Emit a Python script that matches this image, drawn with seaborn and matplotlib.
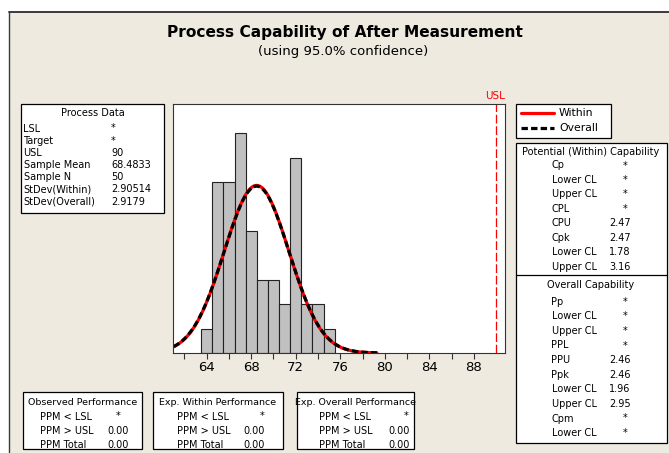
# Process capability chart of After Measurement (Minitab style)

import numpy as np
import pandas as pd
import matplotlib.pyplot as plt
import seaborn as sns
from matplotlib.patches import Rectangle
from matplotlib.lines import Line2D

# Histogram of the measurements (bin width 1)
bin_mids = [64, 65, 66, 67, 68, 69, 70, 71, 72, 73, 74, 75]
counts = [1, 7, 7, 9, 5, 3, 3, 2, 8, 2, 2, 1]

# Process data
usl = 90
sample_mean = 68.4833
sample_n = 50
sd_within = 2.90514
sd_overall = 2.9179

process_labels = ["LSL", "Target", "USL", "Sample Mean", "Sample N", "StDev(Within)", "StDev(Overall)"]
process_values = ["*", "*", "90", "68.4833", "50", "2.90514", "2.9179"]

within_labels = ["Cp", "Lower CL", "Upper CL", "CPL", "CPU", "Cpk", "Lower CL", "Upper CL"]
within_values = ["*", "*", "*", "*", "2.47", "2.47", "1.78", "3.16"]

overall_labels = ["Pp", "Lower CL", "Upper CL", "PPL", "PPU", "Ppk", "Lower CL", "Upper CL", "Cpm", "Lower CL"]
overall_values = ["*", "*", "*", "*", "2.46", "2.46", "1.96", "2.95", "*", "*"]

perf_titles = ["Observed Performance", "Exp. Within Performance", "Exp. Overall Performance"]
perf_labels = ["PPM < LSL", "PPM > USL", "PPM Total"]
perf_values = [["*", "0.00", "0.00"], ["*", "0.00", "0.00"], ["*", "0.00", "0.00"]]

x_ticks = [62, 64, 66, 68, 70, 72, 74, 76, 78, 80, 82, 84, 86, 88]

W, H = 669, 453
BEIGE = '#eeeae0'
FS = 7.0


def fx(x):
    return x / W


def fy(y):
    return 1 - y / H


sns.set_style("white")
plt.rcParams['font.family'] = ['DejaVu Sans']
plt.rcParams['text.color'] = 'black'
plt.rcParams['xtick.color'] = '#333333'
plt.rcParams['xtick.labelcolor'] = 'black'

fig = plt.figure(figsize=(W / 100, H / 100), dpi=100)
fig.patch.set_facecolor('white')

# beige panel with dark top/left edge
fig.add_artist(Rectangle((fx(9), 0), 1 - fx(9), fy(11.5), transform=fig.transFigure,
                         facecolor=BEIGE, edgecolor='none', zorder=-2))
fig.add_artist(Line2D([fx(9), 1], [fy(11.5), fy(11.5)], transform=fig.transFigure, color='#3a3a3a', lw=1.4))
fig.add_artist(Line2D([fx(9), fx(9)], [0, fy(11.5)], transform=fig.transFigure, color='#3a3a3a', lw=1.0))


def box(x0, y0, x1, y1):
    fig.add_artist(Rectangle((fx(x0), fy(y1)), fx(x1) - fx(x0), fy(y0) - fy(y1),
                             transform=fig.transFigure, facecolor='white',
                             edgecolor='black', lw=0.9, zorder=1))


def txt(x, y, s, ha='left', **kw):
    fig.text(fx(x), fy(y), s, ha=ha, va='center', fontsize=kw.pop('fontsize', FS), zorder=3, **kw)


# Titles
txt(345, 32, "Process Capability of After Measurement", ha='center', fontsize=11.1, fontweight='bold')
txt(343, 52, "(using 95.0% confidence)", ha='center', fontsize=9.5)

# Histogram and fitted curves
ax = fig.add_axes([fx(173.3), fy(353), (505 - 173.3) / W, (353 - 104) / H])
ax.set_facecolor('white')
bin_edges = [m - 0.5 for m in bin_mids] + [bin_mids[-1] + 0.5]
sns.histplot(x=bin_mids, weights=counts, bins=bin_edges, color='#c0c0c0',
             edgecolor='#222222', linewidth=0.8, alpha=1, ax=ax)

xs = np.linspace(sample_mean - 3.72 * sd_within, sample_mean + 3.72 * sd_within, 300)
binw = bin_edges[1] - bin_edges[0]
y_within = sample_n * binw * np.exp(-0.5 * ((xs - sample_mean) / sd_within) ** 2) / (sd_within * np.sqrt(2 * np.pi))
y_overall = sample_n * binw * np.exp(-0.5 * ((xs - sample_mean) / sd_overall) ** 2) / (sd_overall * np.sqrt(2 * np.pi))
curves = pd.DataFrame({'x': xs, 'within': y_within, 'overall': y_overall})
sns.lineplot(data=curves, x='x', y='within', color='red', lw=2.3, ax=ax)
sns.lineplot(data=curves, x='x', y='overall', color='black', lw=2.3, linestyle=(0, (2.0, 1.0)), ax=ax)

ax.axvline(usl, color='red', lw=0.9, ls=(0, (7, 2.2)))
ax.set_xlim(61.0, 90.8)
ax.set_ylim(0, 10.2)
ax.set_yticks([])
ax.set_xticks(x_ticks)
ax.set_xticklabels([str(t) if t % 4 == 0 else '' for t in x_ticks])
ax.set_xlabel('')
ax.set_ylabel('')
ax.tick_params(axis='x', direction='out', length=4, width=0.8,
               labelsize=9.5, pad=2, bottom=True)
for sp in ax.spines.values():
    sp.set_color('#333333')
    sp.set_linewidth(0.8)

txt(495, 96, "USL", ha='center', fontsize=7.5, color='red')

# Process Data box
box(21, 104, 164, 213)
txt(92.5, 113.5, "Process Data", ha='center')
for i, (lab, v) in enumerate(zip(process_labels, process_values)):
    y = 128.5 + 12.2 * i
    txt(23.5, y, lab)
    if v == "*":
        txt(113, y, v, ha='center')
    else:
        txt(111.5, y, v)

# Legend box
box(516, 104, 611, 137.7)
fig.add_artist(Line2D([fx(521), fx(554)], [fy(113.3)] * 2, transform=fig.transFigure, color='red', lw=2.3, zorder=3))
fig.add_artist(Line2D([fx(521), fx(554)], [fy(128.3)] * 2, transform=fig.transFigure, color='black', lw=2.3,
                      ls=(0, (2.0, 1.0)), zorder=3))
txt(559, 113.3, "Within", fontsize=7.8)
txt(559, 128.3, "Overall", fontsize=7.8)

# Capability box
box(516, 142.7, 666.5, 442.7)
fig.add_artist(Line2D([fx(516), fx(666.5)], [fy(275)] * 2, transform=fig.transFigure, color='black', lw=0.9, zorder=3))
txt(591, 151.7, "Potential (Within) Capability", ha='center')
for i, (lab, v) in enumerate(zip(within_labels, within_values)):
    y = 165.5 + 14.45 * i
    txt(551.5, y, lab)
    if v == "*":
        txt(625, y, v, ha='center')
    else:
        txt(609, y, v)
txt(591, 285.5, "Overall Capability", ha='center')
for i, (lab, v) in enumerate(zip(overall_labels, overall_values)):
    y = 301.7 + 14.6 * i
    txt(551.5, y, lab)
    if v == "*":
        txt(625, y, v, ha='center')
    else:
        txt(609, y, v)

# Performance boxes
perf_boxes = [(22.7, 141.7), (152.7, 282.7), (296.7, 414)]
label_x = [40, 176.7, 319.3]
value_x = [107, 243.3, 388.3]
star_x = [118, 261.7, 406]
for k, title in enumerate(perf_titles):
    x0, x1 = perf_boxes[k]
    box(x0, 392, x1, 449)
    txt((x0 + x1) / 2, 402.5, title, ha='center', fontsize=6.8)
    for i, lab in enumerate(perf_labels):
        y = 416.5 + 14.0 * i
        txt(label_x[k], y, lab)
        v = perf_values[k][i]
        if v == "*":
            txt(star_x[k], y, v, ha='center')
        else:
            txt(value_x[k], y, v)

fig.savefig('out.png', dpi=100, facecolor=fig.get_facecolor())
